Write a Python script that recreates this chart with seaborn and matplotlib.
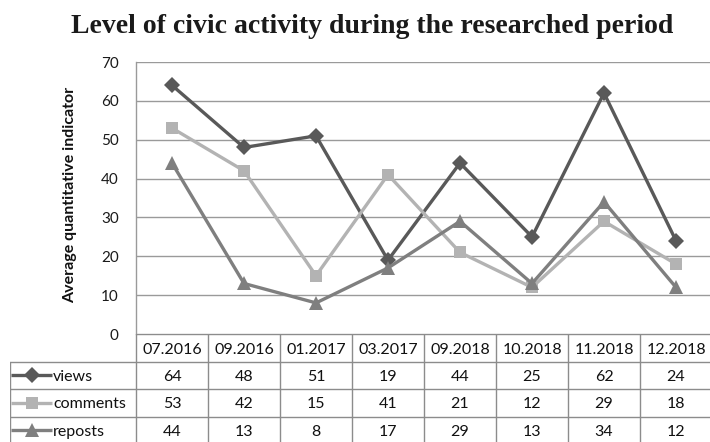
import matplotlib
matplotlib.use("Agg")
import matplotlib.pyplot as plt
import seaborn as sns
import pandas as pd

categories = ["07.2016", "09.2016", "01.2017", "03.2017", "09.2018", "10.2018", "11.2018", "12.2018"]
views = [64, 48, 51, 19, 44, 25, 62, 24]
comments = [53, 42, 15, 41, 21, 12, 29, 18]
reposts = [44, 13, 8, 17, 29, 13, 34, 12]
series_names = ["views", "comments", "reposts"]
title = "Level of civic activity during the researched period"
ylabel = "Average quantitative indicator"
yticks = [0, 10, 20, 30, 40, 50, 60, 70]

colors = {"views": "#595959", "comments": "#b3b3b3", "reposts": "#7f7f7f"}
markers = {"views": "D", "comments": "s", "reposts": "^"}
msizes = {"views": 8, "comments": 8.5, "reposts": 10}

sns.set_theme(style="white")
plt.rcParams['font.family'] = ['Lato', 'DejaVu Sans']

W, H = 710, 442
fig = plt.figure(figsize=(W / 100, H / 100), dpi=100)

# main plot area in pixels
x0, x1 = 136, 712
ytop, ybot = 62, 334
ax = fig.add_axes([x0 / W, (H - ybot) / H, (x1 - x0) / W, (ybot - ytop) / H])

df = pd.DataFrame({
    "idx": list(range(len(categories))) * 3,
    "value": views + comments + reposts,
    "series": [s for s in series_names for _ in categories],
})

for s in series_names:
    sub = df[df["series"] == s]
    sns.lineplot(data=sub, x="idx", y="value", ax=ax, color=colors[s], lw=2.4,
                 marker=markers[s], markersize=msizes[s], markeredgewidth=0,
                 markeredgecolor=colors[s], legend=False)

ax.set_xlim(-0.5, len(categories) - 0.5)
ax.set_ylim(0, 70)
ax.set_yticks(yticks)
ax.set_yticklabels([str(t) for t in yticks], fontsize=11, color="#1a1a1a")
ax.set_xticks([])
ax.set_xlabel("")
ax.set_ylabel(ylabel, fontsize=11.5, fontweight="bold", color="#111111")
ax.yaxis.set_label_coords((77 - x0) / (x1 - x0), 0.51)
ax.yaxis.grid(True, color="#9a9a9a", lw=1)
ax.set_axisbelow(True)
for sp in ["top", "right", "bottom"]:
    ax.spines[sp].set_visible(False)
ax.spines["left"].set_color("#9a9a9a")
ax.spines["left"].set_linewidth(1)
ax.tick_params(axis="y", length=0, pad=12.5)

# data table
tx0 = 10
tbot = 444
tax = fig.add_axes([tx0 / W, (H - tbot) / H, (x1 - tx0) / W, (tbot - ybot) / H])
colw = (x1 - x0) / len(categories)
legw = (x0 - tx0) / colw
tax.set_xlim(-0.5 - legw, len(categories) - 0.5)
tax.set_ylim(4, 0)
tax.axis("off")
lc = "#8c8c8c"
fs = 11.5
tax.plot([-0.5, len(categories) - 0.5], [0, 0], color=lc, lw=1)
for r in [1, 2, 3, 4]:
    tax.plot([-0.5 - legw, len(categories) - 0.5], [r, r], color=lc, lw=1)
tax.plot([-0.5 - legw, -0.5 - legw], [1, 4], color=lc, lw=1)
for c in range(len(categories) + 1):
    tax.plot([c - 0.5, c - 0.5], [0, 4], color=lc, lw=1)
for i, cat in enumerate(categories):
    tax.text(i, 0.58, cat, ha="center", va="center", fontsize=fs, color="#111111")
for r, (s, vals) in enumerate(zip(series_names, [views, comments, reposts]), start=1):
    for i, v in enumerate(vals):
        tax.text(i, r + 0.55, str(v), ha="center", va="center", fontsize=fs, color="#111111")
    lx0 = -0.5 - legw + 0.02
    lx1 = lx0 + 0.56
    tax.plot([lx0, lx1], [r + 0.5, r + 0.5], color=colors[s], lw=2.4,
             solid_capstyle="butt")
    tax.plot([(lx0 + lx1) / 2], [r + 0.5], marker=markers[s], color=colors[s],
             markersize=msizes[s], markeredgewidth=0)
    tax.text(lx1 + 0.02, r + 0.55, s, ha="left", va="center", fontsize=fs, color="#111111")

fig.text(372 / W, 1 - 33 / H, title, ha="center", va="baseline", fontsize=20,
         fontweight="bold", family=["Liberation Serif", "DejaVu Serif"], color="#1a1a1a")

fig.savefig("out.png", dpi=100)
